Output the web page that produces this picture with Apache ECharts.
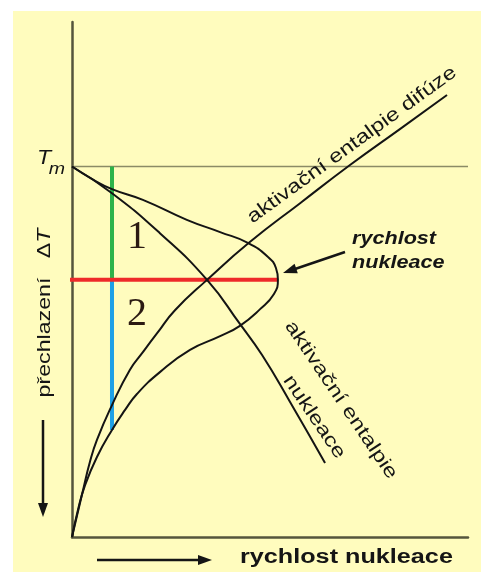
<!DOCTYPE html>
<html>
<head>
<meta charset="utf-8">
<script src="https://cdn.jsdelivr.net/npm/echarts@6/dist/echarts.min.js"></script>
<style>
    body { margin: 0; background: #fff; }
    #chart { width: 481px; height: 572px; }
</style>
</head>
<body>
<div id="chart"></div>
<script>
// values: x = rychlost (0..100), y = teplota (Tm = 100)
var tm = 100;
var diffusion = [[0, 0], [1.3, 5.9], [2.8, 12.7], [4.5, 20.2], [6.3, 26.2], [10.1, 35.6], [14.6, 45.1], [17.9, 49.9],
    [21.5, 55.0], [26.0, 61.2], [34.1, 69.4], [44.9, 79.6], [57.6, 90.1], [70.2, 100.4], [82.8, 110.1], [94.7, 119.3]];
var nucleationRate = [[0, 100], [5.1, 96.6], [10.1, 93.9], [17.9, 91.0], [29.0, 85.6], [37.4, 82.3], [44.4, 79.4],
    [49.5, 75.6], [51.5, 72.6], [52.0, 69.4], [51.0, 65.6], [47.5, 61.5], [42.4, 57.0], [37.4, 54.2], [29.8, 50.5],
    [22.2, 44.5], [16.4, 38.6], [13.4, 34.3], [10.1, 28.9], [6.3, 21.6], [3.3, 14.0], [1.5, 7.3], [0, 0]];
var nucleationEnthalpy = [[0, 100], [10.1, 92.8], [22.2, 82.0], [34.1, 69.4], [42.4, 57.5], [48.0, 49.1],
    [55.1, 36.4], [63.9, 20.0]];
var crossX = 10.1;      // green / blue line
var crossY = 69.4;      // red line
var redEnd = [-1, 52.0];
var blueEnd = 28.9;

(function(){
	var myChart = echarts.init(document.getElementById("chart"));

	function curve(data) {
	    return {
	        type: 'line',
	        data: data,
	        smooth: 0.5,
	        symbol: 'none',
	        z: 5,
	        lineStyle: { color: '#141414', width: 2 }
	    };
	}
	function straight(data, color, width, z) {
	    return {
	        type: 'line',
	        data: data,
	        symbol: 'none',
	        clip: false,
	        z: z,
	        lineStyle: { color: color, width: width }
	    };
	}
	function label(text, x, y, deg, font, sx, align) {
	    return {
	        type: 'text', x: x, y: y, rotation: deg * Math.PI / 180, scaleX: sx, silent: true, z: 20,
	        style: { text: text, font: font, fill: '#151515', align: align || 'center', verticalAlign: 'middle' }
	    };
	}

	option = {
    animation: false,
    grid: {
        left: 72,
        top: 22,
        width: 396,
        height: 515
    },
    xAxis: {
        type: 'value',
        min: 0,
        max: 100,
        axisLine: { show: true, lineStyle: { color: '#55553c', width: 2.5 } },
        axisTick: { show: false },
        axisLabel: { show: false },
        splitLine: { show: false }
    },
    yAxis: {
        type: 'value',
        min: 0,
        max: 139,
        axisLine: { show: true, lineStyle: { color: '#55553c', width: 2.5 } },
        axisTick: { show: false },
        axisLabel: { show: false },
        splitLine: { show: false }
    },
    graphic: [
        { type: 'rect', shape: { x: 13, y: 11, width: 468, height: 561 }, style: { fill: '#fffcbe' }, z: -10, silent: true },
        label('T', 44, 158, 0, 'italic 21px "Liberation Sans", Arial', 1.1),
        label('m', 57, 169, 0, 'italic 17px "Liberation Sans", Arial', 1.15),
        label('aktivační entalpie difúze', 352, 145, 36, '19px "Liberation Sans", Arial', 1.25),
        label('rychlost', 352, 239, 0, 'italic bold 18px "Liberation Sans", Arial', 1.2, 'left'),
        label('nukleace', 352, 263, 0, 'italic bold 18px "Liberation Sans", Arial', 1.2, 'left'),
        label('aktivační entalpie', 341, 400, -56, '19px "Liberation Sans", Arial', 1.27),
        label('nukleace', 314, 417, -56, '19px "Liberation Sans", Arial', 1.27),
        label('rychlost nukleace', 240, 557, 0, 'bold 20px "Liberation Sans", Arial', 1.26, 'left'),
        {
            type: 'text', x: 45, y: 313, rotation: Math.PI / 2, scaleX: 1.22, silent: true, z: 20,
            style: {
                text: '{a|přechlazení   Δ}{b|T}', fill: '#151515', align: 'center', verticalAlign: 'middle',
                rich: {
                    a: { font: '19px "Liberation Sans", Arial', fill: '#151515' },
                    b: { font: 'italic 19px "Liberation Sans", Arial', fill: '#151515' }
                }
            }
        },
        { type: 'text', x: 137, y: 237, silent: true, z: 20,
          style: { text: '1', font: '40px "Liberation Serif", "Times New Roman"', fill: '#2b1a12', align: 'center', verticalAlign: 'middle' } },
        { type: 'text', x: 137, y: 314, silent: true, z: 20,
          style: { text: '2', font: '40px "Liberation Serif", "Times New Roman"', fill: '#2b1a12', align: 'center', verticalAlign: 'middle' } },
        // arrows
        { type: 'line', shape: { x1: 345, y1: 252, x2: 295, y2: 269 }, style: { stroke: '#151515', lineWidth: 2.5 }, silent: true },
        { type: 'polygon', shape: { points: [[283, 273], [294.6, 263.8], [297.8, 273.2]] }, style: { fill: '#151515' }, silent: true },
        { type: 'line', shape: { x1: 43, y1: 420, x2: 43, y2: 505 }, style: { stroke: '#151515', lineWidth: 2.5 }, silent: true },
        { type: 'polygon', shape: { points: [[43, 517], [38, 503], [48, 503]] }, style: { fill: '#151515' }, silent: true },
        { type: 'line', shape: { x1: 97, y1: 560, x2: 200, y2: 560 }, style: { stroke: '#151515', lineWidth: 2.5 }, silent: true },
        { type: 'polygon', shape: { points: [[212, 560], [198, 555], [198, 565]] }, style: { fill: '#151515' }, silent: true }
    ],
    series: [
        straight([[0, tm], [100, tm]], '#8b8b66', 1.5, 1),
        straight([[crossX, tm], [crossX, crossY]], '#2db34a', 4, 2),
        straight([[crossX, crossY], [crossX, blueEnd]], '#1ea0e6', 4, 2),
        straight([[redEnd[0], crossY], [redEnd[1], crossY]], '#ee2a2a', 4, 3),
        curve(diffusion),
        curve(nucleationRate),
        curve(nucleationEnthalpy)
    ]
};
	myChart.setOption(option);
})();
</script>
</body>
</html>
